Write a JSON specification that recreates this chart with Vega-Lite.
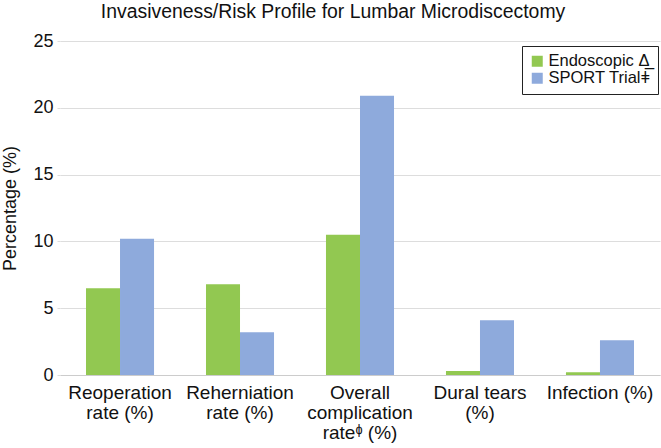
{
  "$schema": "https://vega.github.io/schema/vega-lite/v6.json",
  "width": 600,
  "height": 334,
  "autosize": "none",
  "padding": {"left": 60, "right": 1, "top": 41, "bottom": 73},
  "background": "white",
  "title": {"text": "Invasiveness/Risk Profile for Lumbar Microdiscectomy", "font": "Liberation Sans", "fontSize": 19.4, "fontWeight": "normal", "color": "#111", "offset": 10, "dx": -27},
  "data": {"values": [
    {"cat": "Reoperation|rate (%)", "o": 1, "series": "Endoscopic Δ̲", "s": 1, "value": 6.5},
    {"cat": "Reoperation|rate (%)", "o": 1, "series": "SPORT Trialǂ", "s": 2, "value": 10.2},
    {"cat": "Reherniation|rate (%)", "o": 2, "series": "Endoscopic Δ̲", "s": 1, "value": 6.8},
    {"cat": "Reherniation|rate (%)", "o": 2, "series": "SPORT Trialǂ", "s": 2, "value": 3.2},
    {"cat": "Overall|complication|rateᶲ (%)", "o": 3, "series": "Endoscopic Δ̲", "s": 1, "value": 10.5},
    {"cat": "Overall|complication|rateᶲ (%)", "o": 3, "series": "SPORT Trialǂ", "s": 2, "value": 20.9},
    {"cat": "Dural tears|(%)", "o": 4, "series": "Endoscopic Δ̲", "s": 1, "value": 0.3},
    {"cat": "Dural tears|(%)", "o": 4, "series": "SPORT Trialǂ", "s": 2, "value": 4.1},
    {"cat": "Infection (%)", "o": 5, "series": "Endoscopic Δ̲", "s": 1, "value": 0.2},
    {"cat": "Infection (%)", "o": 5, "series": "SPORT Trialǂ", "s": 2, "value": 2.6}
  ]},
  "mark": {"type": "bar"},
  "encoding": {
    "x": {"field": "cat", "type": "nominal", "sort": {"field": "o"},
      "scale": {"paddingInner": 0.433, "paddingOuter": 0.2167},
      "axis": {"title": null, "labelAngle": 0, "labelExpr": "split(datum.label, '|')", "labelFont": "Liberation Sans", "labelFontSize": 19, "labelColor": "#111", "labelLineHeight": 20, "ticks": false, "domainColor": "#ccc", "labelPadding": 8, "labelLimit": 0}},
    "xOffset": {"field": "series", "type": "nominal", "sort": {"field": "s"}},
    "y": {"field": "value", "type": "quantitative",
      "scale": {"domain": [0, 25], "nice": false},
      "axis": {"title": "Percentage (%)", "titleFont": "Liberation Sans", "titleFontSize": 18, "titleFontWeight": "normal", "titleColor": "#111", "titlePadding": 13, "values": [0, 5, 10, 15, 20, 25], "labelFont": "Liberation Sans", "labelFontSize": 18, "labelColor": "#111", "domain": false, "tickColor": "#ddd", "tickSize": 3, "gridColor": "#ddd", "labelPadding": 4}},
    "color": {"field": "series", "type": "nominal", "sort": {"field": "s"},
      "scale": {"range": ["#92c851", "#8eaadc"]},
      "legend": {"title": null, "orient": "none", "legendX": 462, "legendY": 5, "strokeColor": "#222", "padding": 7, "labelFont": "Liberation Sans", "labelFontSize": 16.5, "labelColor": "#111", "labelOffset": 3, "symbolType": "square", "symbolSize": 121, "symbolStrokeWidth": 0, "rowPadding": 0, "fillColor": "white"}}
  },
  "config": {"view": {"stroke": null}}
}
